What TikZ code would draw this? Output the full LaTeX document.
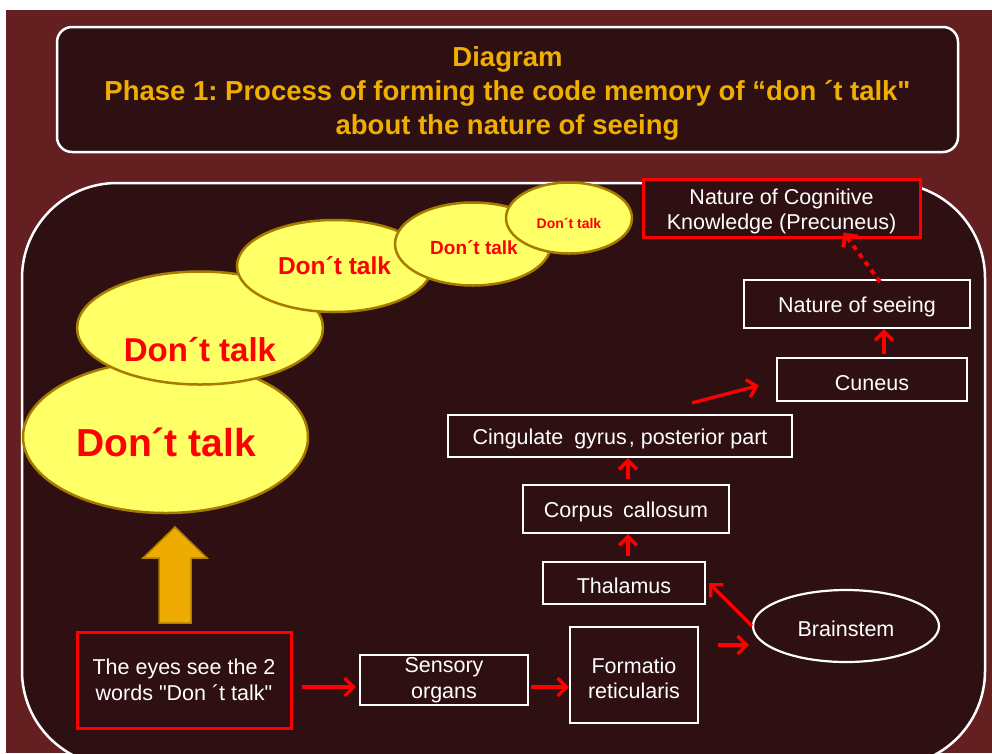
\documentclass[tikz,border=0pt]{standalone}
\usepackage{fontspec}
\setmainfont{Liberation Sans}[Ligatures=TeXOff]
\usetikzlibrary{shapes.geometric,arrows.meta}
\definecolor{slideframe}{HTML}{641F20}
\definecolor{slidedark}{HTML}{2F1012}
\definecolor{titlegold}{HTML}{EFAE00}
\definecolor{bubblefill}{HTML}{FFFF66}
\definecolor{bubbleedge}{HTML}{A67C00}
\definecolor{arrowgold}{HTML}{EFAC00}
\definecolor{arrowedge}{HTML}{B07F00}
\newcommand{\lowerline}{\rule{0pt}{22pt}}
\frenchspacing

\begin{document}
\begin{tikzpicture}[
  x=1pt,
  y=-1pt,
  every node/.style={font=\fontsize{21.5}{25.5}\selectfont, text=white},
  brainbox/.style={draw=white, line width=2.2pt, fill=slidedark, inner sep=0pt, align=center},
  redbox/.style={brainbox, draw=red, line width=3pt},
  bubble/.style={ellipse, draw=bubbleedge, line width=2.5pt, fill=bubblefill, inner sep=0pt, text=red},
  flow/.style={draw=red, line width=3.3pt, -{Straight Barb[length=9pt,width=18pt]}}
]
  \useasboundingbox (0,0) rectangle (992,753);
  \clip (0,0) rectangle (992,753);
  \fill[white] (0,0) rectangle (992,753);
  \fill[slideframe] (6,10) rectangle (992,753);

  \node[draw=white, line width=2.5pt, rounded corners=15pt, fill=slidedark,
    minimum width=901pt, minimum height=125pt, text=titlegold, align=center,
    font=\bfseries\fontsize{27.5}{34}\selectfont] (title) at (507.5,89.5)
    {\rule{0pt}{28pt}Diagram\\Phase 1: Process of forming the code memory of “don ´t talk"\\about the nature of seeing};

  \draw[white, line width=2.5pt, rounded corners=95pt, fill=slidedark] (22,183) rectangle (985,766);

  % growing echoes of the two words
  \node[bubble, minimum width=285pt, minimum height=152pt] (b1) at (165.5,437) {};
  \node[text=red, font=\bfseries\fontsize{39}{44}\selectfont] (b1t) at (166,442) {Don´t talk};
  \node[bubble, minimum width=246pt, minimum height=113pt] (b2) at (200,328) {};
  \node[text=red, font=\bfseries\fontsize{33}{38}\selectfont] (b2t) at (200,350) {Don´t talk};
  \node[bubble, minimum width=195pt, minimum height=92pt, font=\bfseries\fontsize{24.5}{28}\selectfont] (b3) at (334.5,266) {Don´t talk};
  \node[bubble, minimum width=156pt, minimum height=83pt] (b4) at (473,244) {};
  \node[text=red, font=\bfseries\fontsize{19}{22}\selectfont] (b4t) at (474,248) {Don´t talk};
  \node[bubble, minimum width=126pt, minimum height=71pt] (b5) at (569,218) {};
  \node[text=red, font=\bfseries\fontsize{14}{17}\selectfont] (b5t) at (569,223) {Don´t talk};

  \draw[fill=arrowgold, draw=arrowedge, line width=1.5pt]
    (159,623) -- (159,558) -- (143,558) -- (175,527) -- (207,558) -- (191,558) -- (191,623) -- cycle;

  \node[redbox, minimum width=214pt, minimum height=96pt] (eyes) at (184,680) {The eyes see the 2\\words "Don ´t talk"};
  \node[brainbox, minimum width=168pt, minimum height=50pt] (sens) at (444,680) {Sensory\\organs};
  \node[brainbox, minimum width=128pt, minimum height=96pt] (form) at (634,675) {\lowerline Formatio\\reticularis};
  \node[brainbox, ellipse, minimum width=186pt, minimum height=72pt] (brain) at (846,626) {\lowerline Brainstem};
  \node[brainbox, minimum width=162pt, minimum height=42pt] (thal) at (624,583) {\lowerline Thalamus};
  \node[brainbox, minimum width=206pt, minimum height=48pt] (corpus) at (626,509) {\lowerline Corpus\hspace{4pt} callosum};
  \node[brainbox, minimum width=344pt, minimum height=42pt] (cing) at (620,436) {\lowerline Cingulate\hspace{5pt} gyrus\hspace{2pt}, posterior part};
  \node[brainbox, minimum width=190pt, minimum height=43pt] (cuneus) at (872,379.5) {\lowerline Cuneus};
  \node[brainbox, minimum width=226pt, minimum height=48pt] (seeing) at (857,304) {\lowerline Nature of seeing};
  \node[redbox, minimum width=277pt, minimum height=58pt] (precun) at (781.5,208) {\lowerline Nature of Cognitive\\Knowledge (Precuneus)};

  \draw[flow, shorten <=9pt, shorten >=3pt] ([yshift=-7pt]eyes.east) -- ([yshift=-7pt]sens.west);
  \draw[flow, shorten <=2pt] ([yshift=-7pt]sens.east) -- ([yshift=-7pt]sens.east -| form.west);
  \draw[flow, shorten <=19pt, shorten >=3pt] ([yshift=30pt]form.east) -- ([yshift=30pt]form.east -| brain.west);
  \draw[flow] (brain.west) -- ([xshift=3pt]thal.east);
  \draw[flow, shorten <=5pt] ([xshift=4pt]thal.north) -- ([xshift=4pt]thal.north |- corpus.south);
  \draw[flow, shorten <=5pt] ([xshift=2pt]corpus.north) -- ([xshift=2pt]corpus.north |- cing.south);
  \draw[flow] ([xshift=72pt,yshift=11pt]cing.north) -- ([xshift=-17pt,yshift=-6pt]cuneus.west);
  \draw[flow, shorten <=3pt] ([xshift=12pt]cuneus.north) -- ([xshift=12pt]cuneus.north |- seeing.south);
  \draw[flow, line width=4pt, dash pattern=on 5pt off 5pt] ([xshift=23pt,yshift=-3pt]seeing.north) -- ([xshift=62pt,yshift=6pt]precun.south);
\end{tikzpicture}
\end{document}
